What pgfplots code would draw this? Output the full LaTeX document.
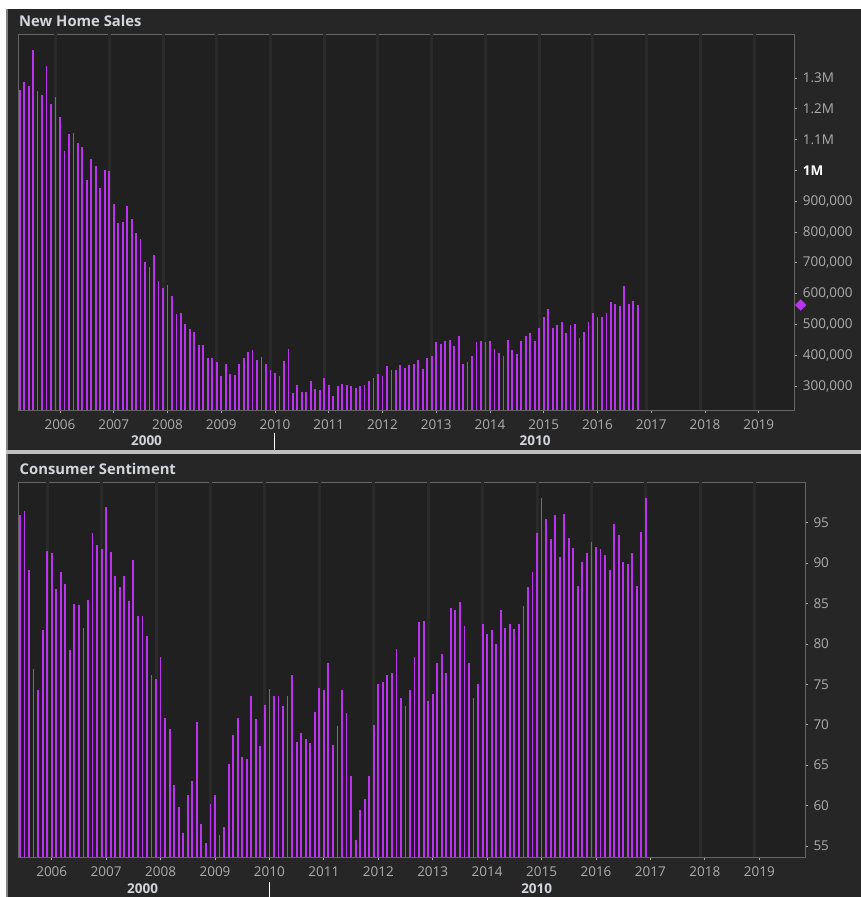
\documentclass[border=0pt]{standalone}
\usepackage{fontspec}
\setmainfont{Open Sans}
\usepackage{pgfplots}
\pgfplotsset{compat=1.18}
\usepackage{pgfplotstable}

\definecolor{bgc}{HTML}{262626}
\definecolor{plotbg}{HTML}{202020}
\definecolor{gridc}{HTML}{2A2A2A}
\definecolor{axc}{HTML}{666666}
\definecolor{tickc}{HTML}{ADADAD}
\definecolor{titc}{HTML}{D2D6DA}
\definecolor{barc}{HTML}{BB33EE}
\definecolor{sepc}{HTML}{C0C0C0}
\definecolor{edgec}{HTML}{808080}

\newcommand\ticksize{\fontsize{13.5}{16}\selectfont}

\pgfplotstableread{
yr mo v
2005 4 1261
2005 5 1287
2005 6 1274
2005 7 1391
2005 8 1257
2005 9 1244
2005 10 1339
2005 11 1215
2005 12 1239
2006 1 1174
2006 2 1063
2006 3 1118
2006 4 1122
2006 5 1088
2006 6 1076
2006 7 968
2006 8 1036
2006 9 1015
2006 10 943
2006 11 1002
2006 12 998
2007 1 891
2007 2 830
2007 3 833
2007 4 886
2007 5 842
2007 6 796
2007 7 777
2007 8 702
2007 9 687
2007 10 726
2007 11 640
2007 12 618
2008 1 627
2008 2 592
2008 3 533
2008 4 536
2008 5 502
2008 6 485
2008 7 475
2008 8 433
2008 9 433
2008 10 390
2008 11 390
2008 12 377
2009 1 333
2009 2 372
2009 3 339
2009 4 335
2009 5 372
2009 6 390
2009 7 411
2009 8 416
2009 9 385
2009 10 394
2009 11 372
2009 12 351
2010 1 342
2010 2 333
2010 3 381
2010 4 420
2010 5 278
2010 6 303
2010 7 282
2010 8 282
2010 9 316
2010 10 290
2010 11 286
2010 12 325
2011 1 303
2011 2 268
2011 3 299
2011 4 307
2011 5 303
2011 6 299
2011 7 294
2011 8 299
2011 9 303
2011 10 316
2011 11 325
2011 12 338
2012 1 333
2012 2 364
2012 3 351
2012 4 351
2012 5 368
2012 6 359
2012 7 368
2012 8 372
2012 9 385
2012 10 355
2012 11 390
2012 12 398
2013 1 442
2013 2 437
2013 3 446
2013 4 450
2013 5 429
2013 6 463
2013 7 372
2013 8 377
2013 9 398
2013 10 442
2013 11 446
2013 12 442
2014 1 446
2014 2 420
2014 3 407
2014 4 398
2014 5 450
2014 6 416
2014 7 403
2014 8 446
2014 9 463
2014 10 472
2014 11 446
2014 12 489
2015 1 524
2015 2 550
2015 3 489
2015 4 498
2015 5 507
2015 6 473
2015 7 498
2015 8 502
2015 9 455
2015 10 476
2015 11 507
2015 12 537
2016 1 524
2016 2 524
2016 3 537
2016 4 572
2016 5 567
2016 6 559
2016 7 624
2016 8 567
2016 9 576
2016 10 563
}\homesales

\pgfplotstableread{
yr mo v
2005 6 95.9
2005 7 96.4
2005 8 89.1
2005 9 76.9
2005 10 74.3
2005 11 81.7
2005 12 91.5
2006 1 91.2
2006 2 86.8
2006 3 88.9
2006 4 87.4
2006 5 79.2
2006 6 84.9
2006 7 84.8
2006 8 82.0
2006 9 85.4
2006 10 93.7
2006 11 92.2
2006 12 91.7
2007 1 96.9
2007 2 91.4
2007 3 88.4
2007 4 87.1
2007 5 88.4
2007 6 85.3
2007 7 90.4
2007 8 83.5
2007 9 83.5
2007 10 81.0
2007 11 76.1
2007 12 75.6
2008 1 78.4
2008 2 70.8
2008 3 69.5
2008 4 62.6
2008 5 59.8
2008 6 56.6
2008 7 61.3
2008 8 63.1
2008 9 70.4
2008 10 57.7
2008 11 55.4
2008 12 60.2
2009 1 61.3
2009 2 56.4
2009 3 57.4
2009 4 65.1
2009 5 68.7
2009 6 70.8
2009 7 66.0
2009 8 65.8
2009 9 73.6
2009 10 70.7
2009 11 67.4
2009 12 72.5
2010 1 74.4
2010 2 73.6
2010 3 73.6
2010 4 72.3
2010 5 73.6
2010 6 76.1
2010 7 67.9
2010 8 69.0
2010 9 68.2
2010 10 67.7
2010 11 71.6
2010 12 74.6
2011 1 74.3
2011 2 77.6
2011 3 67.5
2011 4 69.8
2011 5 74.3
2011 6 71.5
2011 7 63.7
2011 8 55.8
2011 9 59.5
2011 10 60.8
2011 11 63.7
2011 12 70.0
2012 1 75.1
2012 2 75.3
2012 3 76.2
2012 4 76.4
2012 5 79.4
2012 6 73.3
2012 7 72.3
2012 8 74.3
2012 9 78.4
2012 10 82.7
2012 11 82.8
2012 12 72.9
2013 1 73.8
2013 2 77.6
2013 3 78.7
2013 4 76.4
2013 5 84.5
2013 6 84.2
2013 7 85.2
2013 8 82.2
2013 9 77.6
2013 10 73.3
2013 11 75.1
2013 12 82.5
2014 1 81.2
2014 2 81.7
2014 3 80.0
2014 4 84.2
2014 5 82.0
2014 6 82.5
2014 7 81.8
2014 8 82.5
2014 9 84.7
2014 10 87.0
2014 11 88.9
2014 12 93.7
2015 1 98.1
2015 2 95.5
2015 3 93.0
2015 4 96.0
2015 5 90.7
2015 6 96.1
2015 7 93.1
2015 8 91.9
2015 9 87.2
2015 10 90.1
2015 11 91.3
2015 12 92.6
2016 1 92.0
2016 2 91.7
2016 3 91.0
2016 4 89.1
2016 5 94.8
2016 6 93.5
2016 7 90.1
2016 8 89.9
2016 9 91.2
2016 10 87.2
2016 11 93.8
2016 12 98.1
}\sentiment

\pgfplotsset{
  panel/.style={
    scale only axis, anchor=south west,
    axis background/.style={fill=plotbg},
    axis line style={draw=axc, line width=0.8pt},
    xtick pos=left, ytick pos=right, yticklabel pos=right,
    tick align=outside,
    major tick length=3pt,
    tick style={draw=tickc, line width=0.8pt},
    xtick={2006,2007,2008,2009,2010,2011,2012,2013,2014,2015,2016,2017,2018,2019},
    xticklabels={2006,2007,2008,2009,2010,2011,2012,2013,2014,2015,2016,2017,2018,2019},
    x tick label style={font=\ticksize, text=tickc, yshift=-3pt},
    y tick label style={font=\ticksize, text=tickc, anchor=west, xshift=2pt},
  },
}
\tikzset{decade/.style={font=\bfseries\ticksize, text=titc}}

\begin{document}
\begin{tikzpicture}
\useasboundingbox (0pt,0pt) rectangle (861pt,897pt);
\fill[bgc] (0pt,0pt) rectangle (861pt,897pt);
\fill[white] (0pt,888pt) rectangle (861pt,897pt);
\fill[white] (0pt,0pt) rectangle (6pt,897pt);
\fill[edgec] (6pt,0pt) rectangle (7.5pt,888pt);
\fill[sepc] (6pt,442.5pt) rectangle (861pt,446.5pt);

\node[anchor=base west, inner sep=0pt, font=\bfseries\fontsize{14.8}{17}\selectfont, text=titc] at (19pt,870pt) {New Home Sales};
\node[anchor=base west, inner sep=0pt, font=\bfseries\fontsize{14.8}{17}\selectfont, text=titc] at (19.5pt,422pt) {Consumer Sentiment};

% ---------- top panel ----------
\begin{axis}[panel, at={(18pt,487pt)}, width=776.3pt, height=376pt,
  xmin=2005.219, xmax=2019.662, ymin=222.1, ymax=1442.9,
  ytick={300,400,500,600,700,800,900,1000,1100,1200,1300},
  yticklabels={{300,000},{400,000},{500,000},{600,000},{700,000},{800,000},{900,000},{\textbf{\color{white}1M}},{1.1M},{1.2M},{1.3M}}]
\pgfplotsinvokeforeach{2005,2006,2007,2008,2009,2010,2011,2012,2013,2014,2015,2016,2017,2018}{
  \draw[gridc, line width=3pt] ({axis cs:#1.9167,300}|-{rel axis cs:0,0}) -- ({axis cs:#1.9167,300}|-{rel axis cs:0,1});
}
\addplot[ycomb, barc, line width=1.8pt] table[x expr=\thisrow{yr}+(\thisrow{mo}-1)/12, y=v]{\homesales};
\addplot[only marks, mark=square*, mark size=3.8pt, barc, mark options={xshift=6.4pt, rotate=45}] coordinates {(2019.662,563)};
\coordinate (dA) at ({axis cs:2007.61,300}|-{rel axis cs:0,0});
\coordinate (dB) at ({axis cs:2014.84,300}|-{rel axis cs:0,0});
\coordinate (dC) at ({axis cs:2010,300}|-{rel axis cs:0,0});
\end{axis}
\node[decade] at ([yshift=-31pt]dA) {2000};
\node[decade] at ([yshift=-31pt]dB) {2010};
\draw[white, line width=1pt] ([yshift=-23pt]dC) -- ([yshift=-40pt]dC);

% ---------- bottom panel ----------
\begin{axis}[panel, at={(18.3pt,39.7pt)}, width=786.7pt, height=375pt,
  xmin=2005.386, xmax=2019.84, ymin=53.6, ymax=100.0,
  ytick={55,60,65,70,75,80,85,90,95},
  yticklabels={55,60,65,70,75,80,85,90,95}]
\pgfplotsinvokeforeach{2005,2006,2007,2008,2009,2010,2011,2012,2013,2014,2015,2016,2017,2018}{
  \draw[gridc, line width=3pt] ({axis cs:#1.9167,60}|-{rel axis cs:0,0}) -- ({axis cs:#1.9167,60}|-{rel axis cs:0,1});
}
\addplot[ycomb, barc, line width=1.8pt] table[x expr=\thisrow{yr}+(\thisrow{mo}-1)/12, y=v]{\sentiment};
\coordinate (eA) at ({axis cs:2007.67,60}|-{rel axis cs:0,0});
\coordinate (eB) at ({axis cs:2014.91,60}|-{rel axis cs:0,0});
\coordinate (eC) at ({axis cs:2010,60}|-{rel axis cs:0,0});
\end{axis}
\node[decade] at ([yshift=-31.7pt]eA) {2000};
\node[decade] at ([yshift=-31.7pt]eB) {2010};
\draw[white, line width=1pt] ([yshift=-25pt]eC) -- ([yshift=-40pt]eC);
\end{tikzpicture}
\end{document}
